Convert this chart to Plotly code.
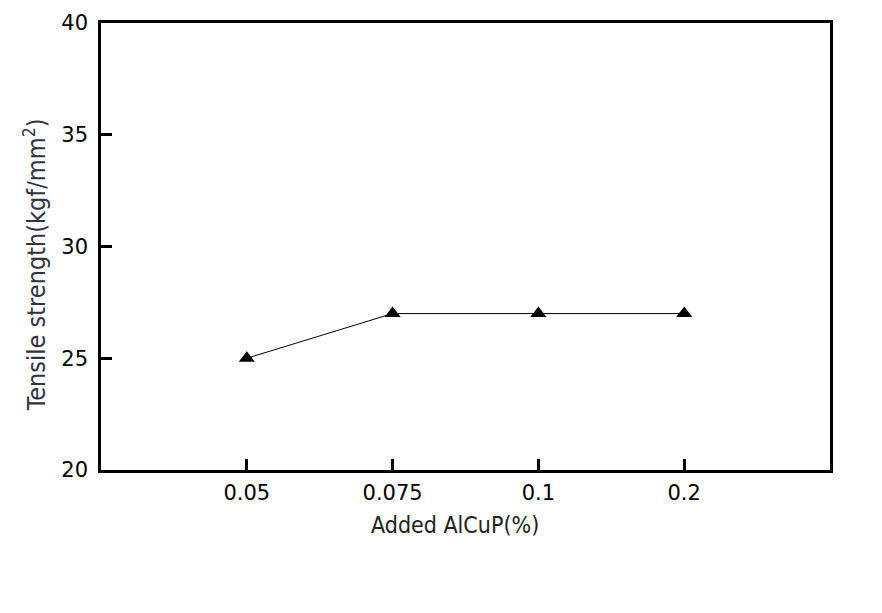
import plotly.graph_objects as go

categories = ["0.05", "0.075", "0.1", "0.2"]
tensile = [25, 27, 27, 27]
y_ticks = [20, 25, 30, 35, 40]

ytitle = "Tensile strength(kgf/mm<sup>2</sup>)"
xtitle = "Added AlCuP(%)"

fig = go.Figure()
fig.add_trace(go.Scatter(
    x=list(range(1, len(categories) + 1)), y=tensile,
    mode="lines+markers",
    line=dict(color="black", width=1),
    marker=dict(symbol="triangle-up", size=14, color="black"),
    showlegend=False,
))

axis_common = dict(
    showline=True, linecolor="black", linewidth=2.5, mirror=True,
    ticks="inside", ticklen=11, tickwidth=2.5, tickcolor="black",
    showgrid=False, zeroline=False,
    tickfont=dict(family="DejaVu Sans, Arial, sans-serif", size=21, color="black"),
)

title_font = "Liberation Sans Narrow, DejaVu Sans Condensed, Arial Narrow, sans-serif"

fig.update_layout(
    width=882, height=613,
    margin=dict(l=101, r=52, t=23, b=143),
    paper_bgcolor="white", plot_bgcolor="white",
    xaxis=dict(
        **axis_common,
        range=[0, 5],
        tickvals=list(range(1, len(categories) + 1)),
        ticktext=categories,
        ticklabelstandoff=2,
    ),
    yaxis=dict(
        **axis_common,
        range=[20, 40],
        tickvals=y_ticks,
        ticklabelstandoff=6,
    ),
    annotations=[
        dict(text=xtitle, xref="paper", yref="paper", x=0.486, y=-0.123,
             showarrow=False, xanchor="center", yanchor="middle",
             font=dict(family=title_font, size=23, color="#222222")),
        dict(text=ytitle, xref="paper", yref="paper", x=-0.09, y=0.459,
             showarrow=False, xanchor="center", yanchor="middle", textangle=-90,
             font=dict(family=title_font, size=25, color="#333340")),
    ],
)

fig.write_html("out.html")
